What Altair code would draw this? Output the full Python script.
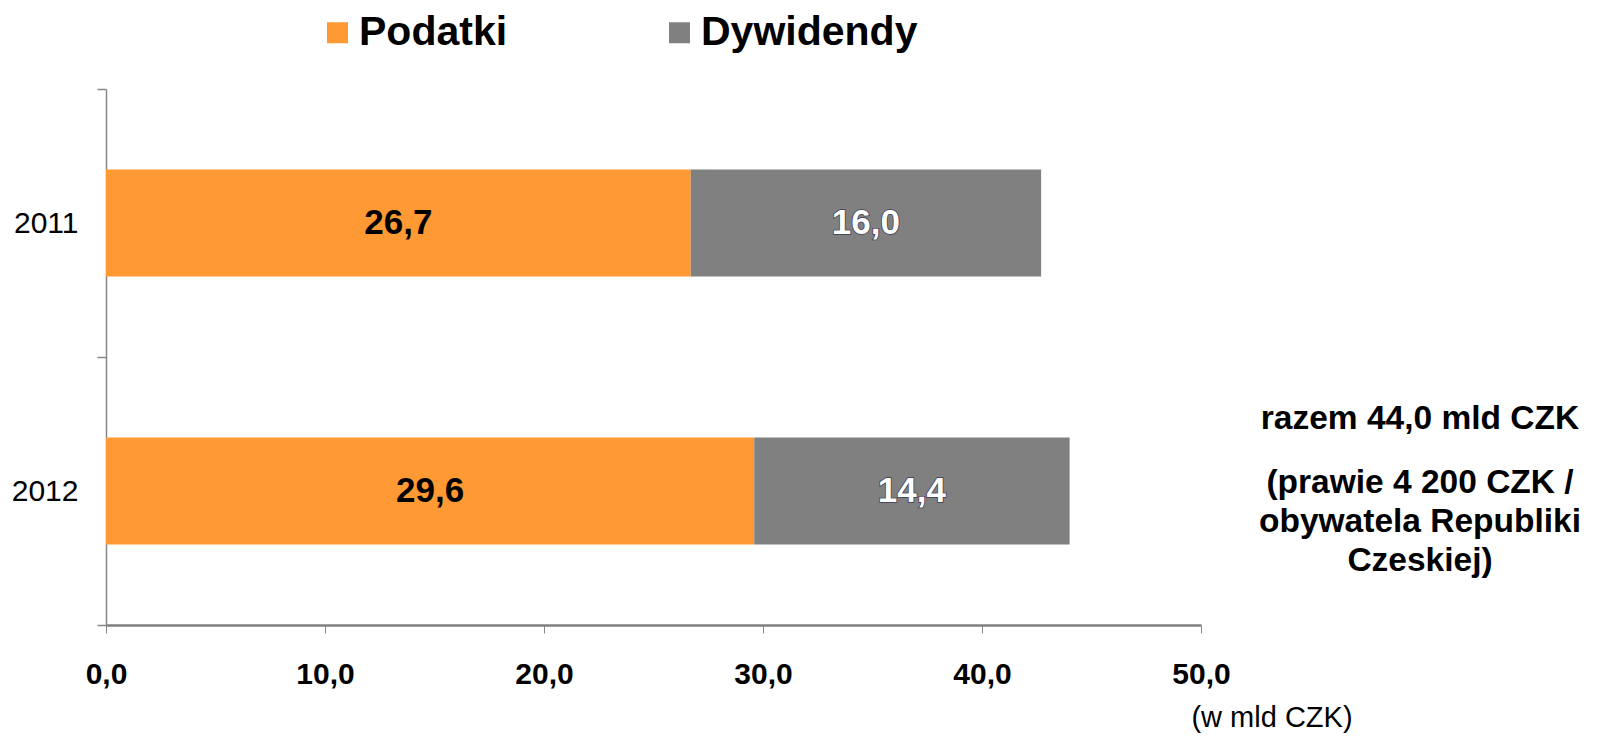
import altair as alt
import pandas as pd

years = ["2011", "2012"]
series = ["Podatki", "Dywidendy"]
podatki = [26.7, 29.6]
dywidendy = [16.0, 14.4]
x_ticks = [0, 10, 20, 30, 40, 50]
colors = ["#FF9933", "#808080"]
total_text = "razem 44,0 mld CZK"
note_lines = ["(prawie 4 200 CZK /", "obywatela Republiki", "Czeskiej)"]
unit_text = "(w mld CZK)"

FONT = "Liberation Sans"

rows = []
for i, y in enumerate(years):
    rows.append({"year": y, "series": series[0], "value": podatki[i], "ord": 0})
    rows.append({"year": y, "series": series[1], "value": dywidendy[i], "ord": 1})
df = pd.DataFrame(rows)

base = alt.Chart(df).transform_stack(
    stack="value", groupby=["year"], sort=[alt.SortField("ord")], as_=["x0", "x1"]
).transform_calculate(
    mid="(datum.x0 + datum.x1) / 2",
    label="replace(format(datum.value, '.1f'), '.', ',')",
)

yscale = alt.Scale(paddingInner=0, paddingOuter=0)

yenc = alt.Y(
    "year:N",
    sort=years,
    title=None,
    scale=yscale,
    axis=alt.Axis(
        labelFont=FONT, labelFontSize=30, labelColor="black", labelPadding=19,
        tickBand="extent", tickSize=9, tickColor="#888888", domainColor="#888888",
        domainWidth=1.5, tickWidth=1.5, grid=False,
    ),
)

bars = base.mark_bar(height=alt.RelativeBandSize(0.4)).encode(
    x=alt.X(
        "x0:Q",
        title=None,
        scale=alt.Scale(domain=[0, 50], nice=False),
        axis=alt.Axis(
            values=x_ticks, labelFont=FONT, labelFontSize=30, labelFontWeight="bold",
            labelColor="black", labelPadding=26, labelFlush=False,
            labelExpr="replace(format(datum.value, '.1f'), '.', ',')",
            tickSize=8, tickColor="#888888", domainColor="#808080", domainWidth=2.5,
            grid=False,
        ),
    ),
    x2="x1:Q",
    y=yenc,
    color=alt.Color(
        "series:N",
        scale=alt.Scale(domain=series, range=colors),
        title=None,
        legend=alt.Legend(
            orient="none", direction="horizontal", legendX=211, legendY=-77,
            symbolType="square", symbolSize=441, symbolStrokeWidth=0,
            labelFont=FONT, labelFontSize=41, labelFontWeight="bold", labelColor="black",
            labelOffset=1, columnPadding=151, labelLimit=400,
        ),
    ),
)

labels_outline = base.transform_filter("datum.ord == 1").mark_text(
    font=FONT, fontSize=35, fontWeight="bold", stroke="#3a3a55", strokeWidth=1.5,
    fill="#3a3a55", baseline="middle", align="center",
).encode(x="mid:Q", y=alt.Y("year:N", sort=years, scale=yscale), text="label:N")

labels = base.mark_text(
    font=FONT, fontSize=35, fontWeight="bold", baseline="middle", align="center",
).encode(
    x="mid:Q",
    y=alt.Y("year:N", sort=years, scale=yscale),
    text="label:N",
    color=alt.Color("series:N", scale=alt.Scale(domain=series, range=["black", "white"]), legend=None),
)

ann1 = alt.Chart(pd.DataFrame({"t": [total_text]})).mark_text(
    font=FONT, fontSize=33.5, fontWeight="bold", align="center", baseline="middle", color="black",
).encode(x=alt.value(1314), y=alt.value(330), text="t:N")

ann2 = alt.Chart(pd.DataFrame({"t": [" "]})).mark_text(
    font=FONT, fontSize=33.5, fontWeight="bold", align="center", baseline="middle", color="black",
    text=note_lines, lineHeight=39,
).encode(x=alt.value(1314), y=alt.value(394))

ann3 = alt.Chart(pd.DataFrame({"t": [unit_text]})).mark_text(
    font=FONT, fontSize=29, align="center", baseline="middle", color="black",
).encode(x=alt.value(1166), y=alt.value(629), text="t:N")

chart = alt.layer(bars, labels_outline, labels, ann1, ann2, ann3).resolve_scale(
    color="independent"
).properties(
    width=1095, height=536,
    background="white",
    autosize=alt.AutoSizeParams(type="none"),
    padding={"left": 98, "top": 81, "right": 385, "bottom": 109},
).configure_view(strokeWidth=0, stroke=None)

chart.save("out.html", embed_options={"renderer": "svg", "actions": False})
